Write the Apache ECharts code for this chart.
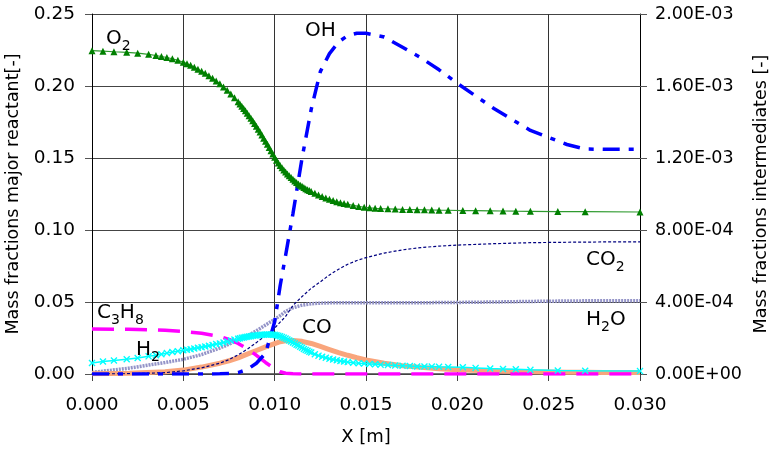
<!DOCTYPE html>
<html>
<head>
<meta charset="utf-8">
<script src="https://cdn.jsdelivr.net/npm/echarts@6/dist/echarts.min.js"></script>
<style>
  html, body { margin: 0; padding: 0; background: #fff; }
  #chart { width: 770px; height: 459px; }
</style>
</head>
<body>
<div id="chart"></div>
<script>
// fine mesh (points with markers: O2 and H2)
const xMesh = [0, 0.0006, 0.0012, 0.0019, 0.0025, 0.0031, 0.0035, 0.0038, 0.0041, 0.0044,
  0.0047, 0.0050, 0.0052, 0.0054, 0.0056, 0.0058, 0.0060, 0.0062, 0.0064, 0.0066,
  0.0068, 0.0070, 0.0072, 0.0074, 0.0076, 0.0078, 0.0080,
  0.0081, 0.0082, 0.0083, 0.0084, 0.0085, 0.0086, 0.0087, 0.0088, 0.0089, 0.0090,
  0.0091, 0.0092, 0.0093, 0.0094, 0.0095, 0.0096, 0.0097, 0.0098, 0.0099, 0.0100,
  0.0101, 0.0102, 0.0103, 0.0104, 0.0105, 0.0106, 0.0107, 0.0108, 0.0109, 0.0110,
  0.0111, 0.0112, 0.0113, 0.0114, 0.0115, 0.0116, 0.0117, 0.0118, 0.0119, 0.0120,
  0.0122, 0.0124, 0.0126, 0.0128, 0.0130, 0.0132, 0.0134, 0.0136, 0.0138, 0.0140,
  0.0143, 0.0146, 0.0149, 0.0152, 0.0155, 0.0158, 0.0162, 0.0166, 0.0170, 0.0174,
  0.0178, 0.0182, 0.0186, 0.0190, 0.0195,
  0.0203, 0.0210, 0.0218, 0.0225, 0.0232, 0.0240, 0.0255, 0.0270, 0.0300];

const o2 = [0.2245, 0.2242, 0.2238, 0.2234, 0.2228, 0.2220, 0.2212, 0.2205, 0.2198, 0.2189,
  0.2178, 0.2165, 0.2155, 0.2144, 0.2131, 0.2117, 0.2103, 0.2088, 0.2072, 0.2054,
  0.2035, 0.2015, 0.1993, 0.1970, 0.1945, 0.1918, 0.1890,
  0.1875, 0.1860, 0.1844, 0.1828, 0.1811, 0.1794, 0.1776, 0.1758, 0.1739, 0.1720,
  0.1700, 0.1680, 0.1659, 0.1638, 0.1617, 0.1595, 0.1573, 0.1550, 0.1527, 0.1505,
  0.1484, 0.1465, 0.1448, 0.1432, 0.1417, 0.1402, 0.1389, 0.1376, 0.1364, 0.1352,
  0.1341, 0.1330, 0.1320, 0.1311, 0.1303, 0.1295, 0.1287, 0.1280, 0.1274, 0.1268,
  0.1255, 0.1243, 0.1232, 0.1222, 0.1213, 0.1204, 0.1197, 0.1190, 0.1184, 0.1178,
  0.1171, 0.1164, 0.1158, 0.1154, 0.1151, 0.1149, 0.1147, 0.1145, 0.1143, 0.1142,
  0.1141, 0.1140, 0.1139, 0.1138, 0.1137,
  0.1135, 0.1134, 0.1133, 0.1132, 0.1131, 0.1130, 0.1128, 0.1127, 0.1125];

// right axis
const h2 = [6.1e-5, 6.9e-5, 7.5e-5, 8.2e-5, 8.9e-5, 9.8e-5, 1.04e-4, 1.10e-4, 1.16e-4, 1.22e-4,
  1.27e-4, 1.32e-4, 1.35e-4, 1.38e-4, 1.42e-4, 1.46e-4, 1.49e-4, 1.53e-4, 1.57e-4, 1.61e-4,
  1.66e-4, 1.70e-4, 1.75e-4, 1.81e-4, 1.86e-4, 1.91e-4, 1.96e-4,
  1.98e-4, 2.01e-4, 2.03e-4, 2.05e-4, 2.07e-4, 2.09e-4, 2.10e-4, 2.12e-4, 2.14e-4, 2.14e-4,
  2.16e-4, 2.17e-4, 2.18e-4, 2.18e-4, 2.19e-4, 2.19e-4, 2.19e-4, 2.19e-4, 2.18e-4, 2.18e-4,
  2.15e-4, 2.13e-4, 2.10e-4, 2.06e-4, 2.02e-4, 1.97e-4, 1.92e-4, 1.86e-4, 1.81e-4, 1.75e-4,
  1.70e-4, 1.63e-4, 1.58e-4, 1.51e-4, 1.46e-4, 1.39e-4, 1.34e-4, 1.29e-4, 1.24e-4, 1.19e-4,
  1.10e-4, 1.02e-4, 9.6e-5, 9.0e-5, 8.5e-5, 8.0e-5, 7.6e-5, 7.2e-5, 6.9e-5, 6.6e-5,
  6.3e-5, 6.0e-5, 5.8e-5, 5.6e-5, 5.4e-5, 5.2e-5, 5.0e-5, 4.7e-5, 4.6e-5, 4.4e-5,
  4.2e-5, 4.2e-5, 4.1e-5, 4.0e-5, 3.9e-5,
  3.7e-5, 3.4e-5, 3.0e-5, 2.8e-5, 2.6e-5, 2.3e-5, 2.0e-5, 1.8e-5, 1.6e-5];

// coarse grid for the line-only species
const xCurve = [0, 0.002, 0.004, 0.005, 0.006, 0.007, 0.0075, 0.008, 0.0085, 0.009,
  0.0095, 0.010, 0.0103, 0.0106, 0.011, 0.0115, 0.012, 0.0125, 0.013, 0.0135,
  0.014, 0.0145, 0.015, 0.016, 0.017, 0.018, 0.019, 0.020, 0.022, 0.024,
  0.026, 0.027, 0.028, 0.030];

const co2 = [0, 0.0002, 0.0009, 0.0022, 0.0043, 0.0075, 0.0100, 0.0133, 0.0172, 0.0218,
  0.0267, 0.0319, 0.0360, 0.0400, 0.0476, 0.0538, 0.0595, 0.0640, 0.0688, 0.0728,
  0.0762, 0.0788, 0.0808, 0.0840, 0.0862, 0.0878, 0.0888, 0.0895, 0.0905, 0.0912,
  0.0915, 0.0916, 0.0917, 0.0917];

const h2o = [0.0011, 0.0040, 0.0080, 0.0102, 0.0135, 0.0180, 0.0207, 0.0236, 0.0265, 0.0300,
  0.0340, 0.0380, 0.0405, 0.0435, 0.0460, 0.0478, 0.0488, 0.0492, 0.0494, 0.0494,
  0.0494, 0.0494, 0.0494, 0.0494, 0.0494, 0.0495, 0.0496, 0.0497, 0.0500, 0.0504,
  0.0507, 0.0508, 0.0509, 0.0509];

const c3h8 = [0.0312, 0.0311, 0.0304, 0.0296, 0.0283, 0.0260, 0.0240, 0.0212, 0.0174, 0.0130,
  0.0080, 0.0036, 0.0016, 0.0005, 0.0001, 0, 0, 0, 0, 0,
  0, 0, 0, 0, 0, 0, 0, 0, 0, 0,
  0, 0, 0, 0];

// right axis
const oh = [0, 0, 0, 0, 0, 1e-6, 3e-6, 8e-6, 2.5e-5, 6e-5,
  1.15e-4, 2.9e-4, 4.9e-4, 6.6e-4, 8.9e-4, 1.2e-3, 1.47e-3, 1.68e-3, 1.78e-3, 1.845e-3,
  1.88e-3, 1.893e-3, 1.893e-3, 1.872e-3, 1.815e-3, 1.757e-3, 1.69e-3, 1.615e-3, 1.475e-3, 1.353e-3,
  1.275e-3, 1.25e-3, 1.248e-3, 1.248e-3];

const co = [1.6e-6, 4.8e-6, 1.28e-5, 2.16e-5, 3.84e-5, 6.0e-5, 7.36e-5, 8.96e-5, 1.104e-4, 1.304e-4,
  1.504e-4, 1.688e-4, 1.792e-4, 1.848e-4, 1.864e-4, 1.816e-4, 1.696e-4, 1.528e-4, 1.36e-4, 1.192e-4,
  1.04e-4, 9.04e-5, 7.84e-5, 6.0e-5, 4.64e-5, 3.68e-5, 2.96e-5, 2.4e-5, 1.68e-5, 1.28e-5,
  1.04e-5, 9.6e-6, 8.8e-6, 8.0e-6];

const FONT = 'DejaVu Sans, Verdana, sans-serif';

function pairs(xs, ys) {
  return xs.map((x, i) => [x, ys[i]]);
}

function sci(v) {
  if (v === 0) return '0.00E+00';
  const e = Math.floor(Math.log10(Math.abs(v)) + 1e-9);
  const m = v / Math.pow(10, e);
  return m.toFixed(2) + 'E' + (e < 0 ? '-' : '+') + String(Math.abs(e)).padStart(2, '0');
}

const rich = {
  n: { fontSize: 20, lineHeight: 20, fontFamily: FONT, color: '#000' },
  s: { fontSize: 14, lineHeight: 14, padding: [14, 0, 0, 0], fontFamily: FONT, color: '#000' }
};

function label(x, y, text) {
  return {
    type: 'text', x: x, y: y, z: 100,
    style: { text: text, rich: rich, align: 'left', verticalAlign: 'middle', fill: '#000' }
  };
}

const chart = echarts.init(document.getElementById('chart'));
chart.setOption({
  animation: false,
  backgroundColor: '#fff',
  textStyle: { fontFamily: FONT },
  grid: { left: 92, right: 130, top: 14, bottom: 85, containLabel: false, outerBoundsMode: 'none' },
  xAxis: {
    type: 'value', min: 0, max: 0.03, interval: 0.005,
    name: 'X [m]', nameLocation: 'middle', nameGap: 54,
    nameTextStyle: { fontSize: 18, color: '#000', fontFamily: FONT },
    axisLine: { lineStyle: { color: '#444', width: 1.5 } },
    axisTick: { length: 7, lineStyle: { color: '#444' } },
    axisLabel: { fontSize: 18.5, color: '#000', margin: 22, fontFamily: FONT, formatter: v => v.toFixed(3) },
    splitLine: { show: true, lineStyle: { color: '#333', width: 1 } }
  },
  yAxis: [
    {
      type: 'value', min: 0, max: 0.25, interval: 0.05, position: 'left',
      name: 'Mass fractions major reactant[-]', nameLocation: 'middle', nameGap: 68,
      nameTextStyle: { fontSize: 17.5, color: '#000', fontFamily: FONT },
      axisLine: { show: true, lineStyle: { color: '#000' } },
      axisTick: { show: true, length: 7, lineStyle: { color: '#555' } },
      axisLabel: { fontSize: 18.5, color: '#000', margin: 17, fontFamily: FONT, formatter: v => v.toFixed(2) },
      splitLine: { show: true, lineStyle: { color: '#444', width: 1 } }
    },
    {
      type: 'value', min: 0, max: 0.002, interval: 0.0004, position: 'right',
      name: 'Mass fractions intermediates [-]', nameLocation: 'middle', nameGap: 112,
      nameTextStyle: { fontSize: 17.5, color: '#000', fontFamily: FONT },
      axisLine: { show: true, lineStyle: { color: '#000' } },
      axisTick: { show: true, length: 7, lineStyle: { color: '#555' } },
      axisLabel: { fontSize: 17.5, color: '#000', margin: 15, fontFamily: FONT, formatter: sci },
      splitLine: { show: false }
    }
  ],
  series: [
    {
      name: 'H2O', type: 'line', yAxisIndex: 0, symbol: 'none',
      data: pairs(xCurve, h2o),
      lineStyle: { color: '#9494c8', width: 3.5, type: [2, 1] }
    },
    {
      name: 'CO', type: 'line', yAxisIndex: 1, symbol: 'none',
      data: pairs(xCurve, co),
      lineStyle: { color: '#f9a57c', width: 5 }
    },
    {
      name: 'CO2', type: 'line', yAxisIndex: 0, symbol: 'none',
      data: pairs(xCurve, co2),
      lineStyle: { color: '#000080', width: 1.2, type: [3, 2] }
    },
    {
      name: 'H2', type: 'line', yAxisIndex: 1,
      symbol: 'path://M0,1.4L1.4,0L5,3.6L8.6,0L10,1.4L6.4,5L10,8.6L8.6,10L5,6.4L1.4,10L0,8.6L3.6,5Z',
      symbolSize: 7,
      data: pairs(xMesh, h2),
      itemStyle: { color: '#00ffff' },
      lineStyle: { color: '#00ffff', width: 1.5 }
    },
    {
      name: 'C3H8', type: 'line', yAxisIndex: 0, symbol: 'none',
      data: pairs(xCurve, c3h8),
      lineStyle: { color: '#ff00ff', width: 3.5, type: [22, 11] }
    },
    {
      name: 'O2', type: 'line', yAxisIndex: 0,
      symbol: 'triangle', symbolSize: 7,
      data: pairs(xMesh, o2),
      itemStyle: { color: '#008000' },
      lineStyle: { color: '#2e9a2e', width: 1.2 }
    },
    {
      name: 'OH', type: 'line', yAxisIndex: 1, symbol: 'none',
      data: pairs(xCurve, oh),
      lineStyle: { color: '#0000ff', width: 3.5, type: [17, 9, 5, 9] }
    }
  ],
  graphic: [
    label(106, 39, '{n|O}{s|2}'),
    label(305, 31, '{n|OH}'),
    label(586, 260, '{n|CO}{s|2}'),
    label(586, 320, '{n|H}{s|2}{n|O}'),
    label(97, 313, '{n|C}{s|3}{n|H}{s|8}'),
    label(136, 350, '{n|H}{s|2}'),
    label(302, 328, '{n|CO}')
  ]
});
</script>
</body>
</html>
